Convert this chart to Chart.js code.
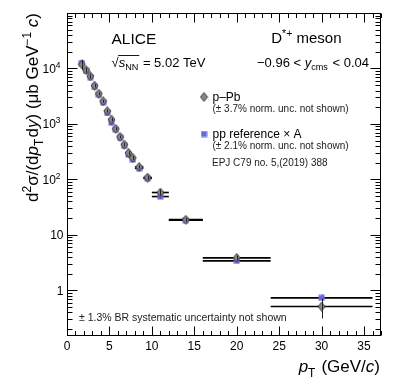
<!DOCTYPE html>
<html>
<head>
<meta charset="utf-8">
<script src="https://cdn.jsdelivr.net/npm/chart.js@4.4.1/dist/chart.umd.min.js"></script>
<style>
  html, body { margin: 0; padding: 0; background: #fff; }
  #wrap { width: 399px; height: 387px; }
</style>
</head>
<body>
<div id="wrap"><canvas id="c" width="399" height="387"></canvas></div>
<script>
// D*+ prod. cross section, p-Pb vs pp reference x A
const ptCenter = [1.75, 2.25, 2.75, 3.25, 3.75, 4.25, 4.75, 5.25, 5.75, 6.25, 6.75, 7.25, 7.75, 8.5, 9.5, 11, 14, 20, 30];
const ptLow    = [1.5, 2, 2.5, 3, 3.5, 4, 4.5, 5, 5.5, 6, 6.5, 7, 7.5, 8, 9, 10, 12, 16, 24];
const ptHigh   = [2, 2.5, 3, 3.5, 4, 4.5, 5, 5.5, 6, 6.5, 7, 7.5, 8, 9, 10, 12, 16, 24, 36];

const pPbValues = [11800, 9300, 7250, 4900, 3500, 2570, 1700, 1200, 815, 585, 425, 300, 245, 168, 108, 58, 18.8, 3.85, 0.51];
const pPbStat   = [2400, 900, 600, 350, 220, 160, 100, 75, 50, 35, 30, 21, 20, 12, 9, 7, 1.5, 0.4, 0.2];
const ppValues  = [12500, 9000, 7000, 4650, 3350, 2450, 1580, 1050, 790, 560, 400, 280, 228, 158, 104, 49, 18.4, 3.4, 0.73];
const ppStat    = [600, 400, 300, 200, 150, 100, 70, 50, 35, 25, 18, 13, 11, 8, 5, 3, 1.2, 0.25, 0.1];

const xTicks = [0, 5, 10, 15, 20, 25, 30, 35];
const yTicks = [1, 10, 100, 1000, 10000];
const yTickBase = ["1", "10", "10", "10", "10"];
const yTickExp  = ["", "", "2", "3", "4"];

const FONT = "'Liberation Sans', Arial, Helvetica, sans-serif";

// kleine Hilfsfunktion für Text mit Hoch-/Tiefstellung
function setFont(ctx, size, italic) {
    ctx.font = (italic ? "italic " : "") + size + "px " + FONT;
}
function runSize(size, kind) {
    return (kind.includes("sub") || kind.includes("sup")) ? size * 0.7 : size;
}
function runsWidth(ctx, runs, size) {
    let w = 0;
    for (const [t, kind = ""] of runs) {
        setFont(ctx, runSize(size, kind), kind.includes("i"));
        w += ctx.measureText(t).width;
        if (kind.includes("sub")) w += size * 0.08;
    }
    return w;
}
function drawRuns(ctx, runs, x, y, size, align) {
    let cx = x;
    if (align === "right") cx = x - runsWidth(ctx, runs, size);
    ctx.textAlign = "left";
    ctx.textBaseline = "alphabetic";
    for (const [t, kind = ""] of runs) {
        const s = runSize(size, kind);
        setFont(ctx, s, kind.includes("i"));
        let dy = 0;
        if (kind.includes("sub")) dy = size * 0.3;
        if (kind.includes("sup")) dy = -size * 0.42;
        ctx.fillText(t, cx, y + dy);
        cx += ctx.measureText(t).width;
        if (kind.includes("sub")) cx += size * 0.08;
    }
    return cx;
}

function makeDiamond() {
    const c = document.createElement("canvas");
    c.width = 9; c.height = 10;
    const g = c.getContext("2d");
    g.beginPath();
    g.moveTo(4.5, 0.6); g.lineTo(8, 5); g.lineTo(4.5, 9.4); g.lineTo(1, 5);
    g.closePath();
    g.fillStyle = "#878787"; g.fill();
    g.strokeStyle = "#303030"; g.lineWidth = 0.9; g.stroke();
    return c;
}
function makeSquare() {
    const c = document.createElement("canvas");
    c.width = 7; c.height = 7;
    const g = c.getContext("2d");
    g.fillStyle = "#6a6ae0"; g.fillRect(0.5, 0.5, 6, 6);
    return c;
}
const diamond = makeDiamond();
const square = makeSquare();

const errorBars = {
    id: "errorBars",
    beforeDatasetsDraw(chart) {
        const { ctx, scales: { x, y } } = chart;
        ctx.save();
        ctx.strokeStyle = "#000";
        ctx.lineWidth = 1.6;
        for (const vals of [ppValues, pPbValues]) {
            vals.forEach((v, i) => {
                const py = y.getPixelForValue(v);
                ctx.beginPath();
                ctx.moveTo(x.getPixelForValue(ptLow[i]), py);
                ctx.lineTo(x.getPixelForValue(ptHigh[i]), py);
                ctx.stroke();
            });
        }
        ctx.lineWidth = 1;
        ppValues.forEach((v, i) => {
            const px = Math.round(x.getPixelForValue(ptCenter[i])) + 0.5;
            ctx.beginPath();
            ctx.moveTo(px, y.getPixelForValue(v - ppStat[i]));
            ctx.lineTo(px, y.getPixelForValue(v + ppStat[i]));
            ctx.stroke();
        });
        ctx.restore();
    },
    afterDatasetsDraw(chart) {
        const { ctx, scales: { x, y } } = chart;
        ctx.save();
        ctx.strokeStyle = "#222";
        ctx.lineWidth = 1;
        pPbValues.forEach((v, i) => {
            const px = Math.round(x.getPixelForValue(ptCenter[i])) + 0.5;
            ctx.beginPath();
            ctx.moveTo(px, y.getPixelForValue(v - pPbStat[i]));
            ctx.lineTo(px, y.getPixelForValue(v + pPbStat[i]));
            ctx.stroke();
        });
        ctx.restore();
    }
};

const frame = {
    id: "frame",
    afterDraw(chart) {
        const { ctx, chartArea: a, scales: { x, y } } = chart;
        const L = Math.round(a.left) + 0.5, R = Math.round(a.right) - 0.5;
        const T = Math.round(a.top) + 0.5, B = Math.round(a.bottom) - 0.5;
        ctx.save();
        ctx.strokeStyle = "#000";
        ctx.lineWidth = 1;
        ctx.strokeRect(L, T, R - L, B - T);

        // x ticks (unten und oben, nach innen)
        ctx.beginPath();
        for (let v = 0; v <= 37; v++) {
            const px = Math.round(x.getPixelForValue(v)) + 0.5;
            const len = v % 5 === 0 ? 9 : 4.5;
            ctx.moveTo(px, B); ctx.lineTo(px, B - len);
            ctx.moveTo(px, T); ctx.lineTo(px, T + len);
        }
        // y ticks log
        for (let d = -1; d <= 4; d++) {
            for (let m = 1; m <= 9; m++) {
                const v = m * Math.pow(10, d);
                if (v < 0.15 || v > 1e5) continue;
                const py = Math.round(y.getPixelForValue(v)) + 0.5;
                const len = m === 1 ? 10 : 5;
                ctx.moveTo(L, py); ctx.lineTo(L + len, py);
                ctx.moveTo(R, py); ctx.lineTo(R - len, py);
            }
        }
        ctx.stroke();

        ctx.fillStyle = "#000";
        // x tick labels
        setFont(ctx, 12, false);
        ctx.textAlign = "center";
        ctx.textBaseline = "alphabetic";
        xTicks.forEach(v => ctx.fillText(String(v), x.getPixelForValue(v), 349.5));

        // y tick labels
        yTicks.forEach((v, i) => {
            const py = y.getPixelForValue(v) + 4.5;
            if (yTickExp[i]) {
                drawRuns(ctx, [[yTickBase[i]], [yTickExp[i], "sup"]], 60.5, py, 12, "right");
            } else {
                drawRuns(ctx, [[yTickBase[i]]], 63.5, py, 12, "right");
            }
        });

        // x title
        drawRuns(ctx, [["p", "i"], ["T", "sub"], [" (GeV/"], ["c", "i"], [")"]], 380, 371.5, 17, "right");

        // y title (gedreht)
        ctx.save();
        ctx.translate(38, 13);
        ctx.rotate(-Math.PI / 2);
        drawRuns(ctx, [["d"], ["2", "sup"], ["σ/(d"], ["p", "i"], ["T", "sub"], ["d"], ["y", "i"],
            [") (μb GeV"], ["−1", "sup"], [" "], ["c", "i"], [")"]], 0, 0, 17, "right");
        ctx.restore();

        // Beschriftungen
        drawRuns(ctx, [["ALICE"]], 111.5, 43.5, 15.5, "left");
        setFont(ctx, 13, false);
        ctx.textAlign = "left";
        ctx.fillText("√", 111.5, 66.5);
        const sx = 111.5 + ctx.measureText("√").width;
        const endSub = drawRuns(ctx, [["s", "i"], ["NN", "sub"]], sx, 66.5, 13, "left");
        ctx.beginPath();
        ctx.lineWidth = 0.9;
        ctx.moveTo(sx - 0.5, 55.5); ctx.lineTo(endSub, 55.5);
        ctx.stroke();
        drawRuns(ctx, [[" = 5.02 TeV"]], endSub, 66.5, 13, "left");

        drawRuns(ctx, [["D"], ["*+", "sup"], [" meson"]], 341.5, 43, 15, "right");
        drawRuns(ctx, [["−0.96 < "], ["y", "i"], ["cms", "sub"], [" < 0.04"]], 369, 66.5, 13, "right");

        // Legende
        ctx.drawImage(diamond, 204 - 4.5, 97 - 5);
        ctx.drawImage(square, 204 - 3.5, 134 - 3.5);
        drawRuns(ctx, [["p–Pb"]], 212.5, 101.3, 12, "left");
        ctx.fillStyle = "#222";
        drawRuns(ctx, [["(± 3.7% norm. unc. not shown)"]], 212.5, 111.5, 10, "left");
        ctx.fillStyle = "#000";
        drawRuns(ctx, [["pp reference × A"]], 212.5, 138.3, 12, "left");
        ctx.fillStyle = "#222";
        drawRuns(ctx, [["(± 2.1% norm. unc. not shown)"]], 212.5, 148.5, 10, "left");
        drawRuns(ctx, [["EPJ C79 no. 5,(2019) 388"]], 212, 166.3, 10, "left");

        drawRuns(ctx, [["± 1.3% BR systematic uncertainty not shown"]], 79, 321, 10.5, "left");
        ctx.restore();
    }
};

new Chart(document.getElementById("c"), {
    type: "scatter",
    data: {
        datasets: [
            {
                label: "p–Pb",
                data: ptCenter.map((pt, i) => ({ x: pt, y: pPbValues[i] })),
                pointStyle: diamond,
                pointRadius: 4,
                showLine: false,
            },
            {
                label: "pp reference × A",
                data: ptCenter.map((pt, i) => ({ x: pt, y: ppValues[i] })),
                pointStyle: square,
                pointRadius: 3,
                showLine: false,
            },
        ],
    },
    options: {
        responsive: false,
        animation: false,
        devicePixelRatio: 1,
        layout: { padding: { left: 67, right: 18, top: 13, bottom: 51 } },
        scales: {
            x: { type: "linear", min: 0, max: 37, display: false },
            y: { type: "logarithmic", min: 0.15, max: 1e5, display: false },
        },
        plugins: {
            legend: { display: false },
            tooltip: { enabled: false },
        },
    },
    plugins: [errorBars, frame],
});
</script>
</body>
</html>
